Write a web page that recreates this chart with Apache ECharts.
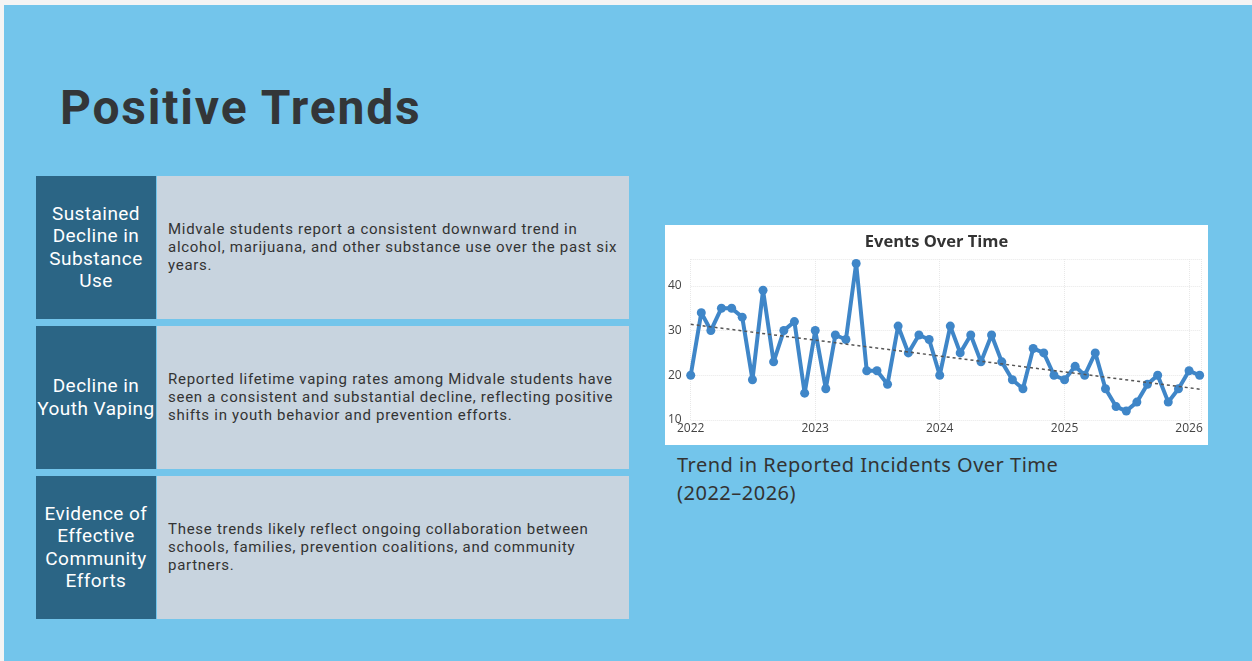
<!DOCTYPE html>
<html>
<head>
<meta charset="utf-8">
<script src="https://cdn.jsdelivr.net/npm/echarts@6/dist/echarts.min.js"></script>
<style>
  html, body { margin:0; padding:0; width:1252px; height:661px; background:#f4f4f4; overflow:hidden; }
  #slide { position:absolute; left:4px; top:5px; width:1248px; height:656px; background:#73C5EB; }
  #title { position:absolute; left:56px; top:74px; font-family:Roboto, sans-serif; font-weight:700; font-size:48px; color:#333638; letter-spacing:1.8px; white-space:nowrap; }
  .row { position:absolute; left:32px; width:593px; height:143px; }
  .head { position:absolute; left:0; top:0; width:120px; height:143px; background:#2B6585; color:#fff;
          font-family:Roboto, sans-serif; font-size:19px; letter-spacing:0.45px; line-height:22.4px; text-align:center;
          display:flex; align-items:center; justify-content:center; white-space:nowrap; }
  .body { position:absolute; left:121px; top:0; width:472px; height:143px; background:#C8D4DF; color:#333;
          font-family:Roboto, sans-serif; font-size:15px; letter-spacing:0.72px; line-height:18px; white-space:nowrap;
          display:flex; align-items:center; padding-left:11px; box-sizing:border-box; }
  .body span { display:block; margin-top:-2px; }
  #chart { position:absolute; left:661px; top:220px; width:543px; height:220px; background:#fff; }
  #caption { position:absolute; left:673px; top:446px; font-family:"Noto Sans", sans-serif; font-size:20px; letter-spacing:0.5px; line-height:28px; color:#333; white-space:nowrap; }
</style>
</head>
<body>
<div id="slide">
  <div id="title">Positive Trends</div>
  <div class="row" style="top:171px;">
    <div class="head">Sustained<br>Decline in<br>Substance<br>Use</div>
    <div class="body"><span>Midvale students report a consistent downward trend in<br>alcohol, marijuana, and other substance use over the past six<br>years.</span></div>
  </div>
  <div class="row" style="top:321px;">
    <div class="head">Decline in<br>Youth Vaping</div>
    <div class="body"><span>Reported lifetime vaping rates among Midvale students have<br>seen a consistent and substantial decline, reflecting positive<br>shifts in youth behavior and prevention efforts.</span></div>
  </div>
  <div class="row" style="top:471px;">
    <div class="head">Evidence of<br>Effective<br>Community<br>Efforts</div>
    <div class="body"><span>These trends likely reflect ongoing collaboration between<br>schools, families, prevention coalitions, and community<br>partners.</span></div>
  </div>
  <div id="chart"></div>
  <div id="caption">Trend in Reported Incidents Over Time<br>(2022–2026)</div>
</div>
<script>
// ---- data ----
const months = [
  '2022-01-01','2022-02-01','2022-03-01','2022-04-01','2022-05-01','2022-06-01','2022-07-01','2022-08-01','2022-09-01','2022-10-01','2022-11-01','2022-12-01',
  '2023-01-01','2023-02-01','2023-03-01','2023-04-01','2023-05-01','2023-06-01','2023-07-01','2023-08-01','2023-09-01','2023-10-01','2023-11-01','2023-12-01',
  '2024-01-01','2024-02-01','2024-03-01','2024-04-01','2024-05-01','2024-06-01','2024-07-01','2024-08-01','2024-09-01','2024-10-01','2024-11-01','2024-12-01',
  '2025-01-01','2025-02-01','2025-03-01','2025-04-01','2025-05-01','2025-06-01','2025-07-01','2025-08-01','2025-09-01','2025-10-01','2025-11-01','2025-12-01',
  '2026-01-01','2026-02-01'
];
const events = [
  20,34,30,35,35,33,19,39,23,30,32,16,
  30,17,29,28,45,21,21,18,31,25,29,28,
  20,31,25,29,23,29,23,19,17,26,25,20,
  19,22,20,25,17,13,12,14,18,20,14,17,
  21,20
];
const trendDates = ['2022-01-01','2026-02-01'];
const trendValues = [31.4, 16.9];
const yTicks = [10,20,30,40];

const chart = echarts.init(document.getElementById('chart'), null, {renderer:'canvas'});
chart.setOption({
  animation:false,
  backgroundColor:'#ffffff',
  title:{ text:'Events Over Time', left:'center', top:4,
    textStyle:{ fontFamily:'"Open Sans", sans-serif', fontWeight:'bold', fontSize:16.5, color:'#333' } },
  grid:{ left:24, right:7, top:34, bottom:25 },
  xAxis:{
    type:'time',
    min:'2022-01-01', max:'2026-02-05',
    minInterval:365*24*3600*1000, maxInterval:366*24*3600*1000,
    axisLine:{show:false}, axisTick:{show:false},
    axisLabel:{ formatter:'{yyyy}', color:'#444', fontSize:12, fontFamily:'"Open Sans", sans-serif', margin:3, hideOverlap:false, showMaxLabel:false },
    splitLine:{ show:true, lineStyle:{ color:'#e8e8e8', type:'dotted', width:1 } }
  },
  yAxis:{
    type:'value', min:10, max:46, interval:10,
    axisLine:{show:false}, axisTick:{show:false},
    axisLabel:{ color:'#444', fontSize:12, fontFamily:'"Open Sans", sans-serif', margin:9,
      formatter: v => yTicks.includes(v) ? String(v) : '' , showMaxLabel:false},
    splitLine:{ show:true, lineStyle:{ color:'#e8e8e8', type:'dotted', width:1 } }
  },
  series:[
    { type:'line', name:'Events', data: months.map((d,i)=>[d, events[i]]),
      lineStyle:{ color:'#3F86C8', width:4 }, itemStyle:{ color:'#3F86C8' },
      symbol:'circle', symbolSize:9, showSymbol:true, z:3 },
    { type:'line', name:'Trend', data: trendDates.map((d,i)=>[d, trendValues[i]]),
      lineStyle:{ color:'#555', width:1.5, type:[3,3] }, symbol:'none', z:4 }
  ]
});
</script>
</body>
</html>
